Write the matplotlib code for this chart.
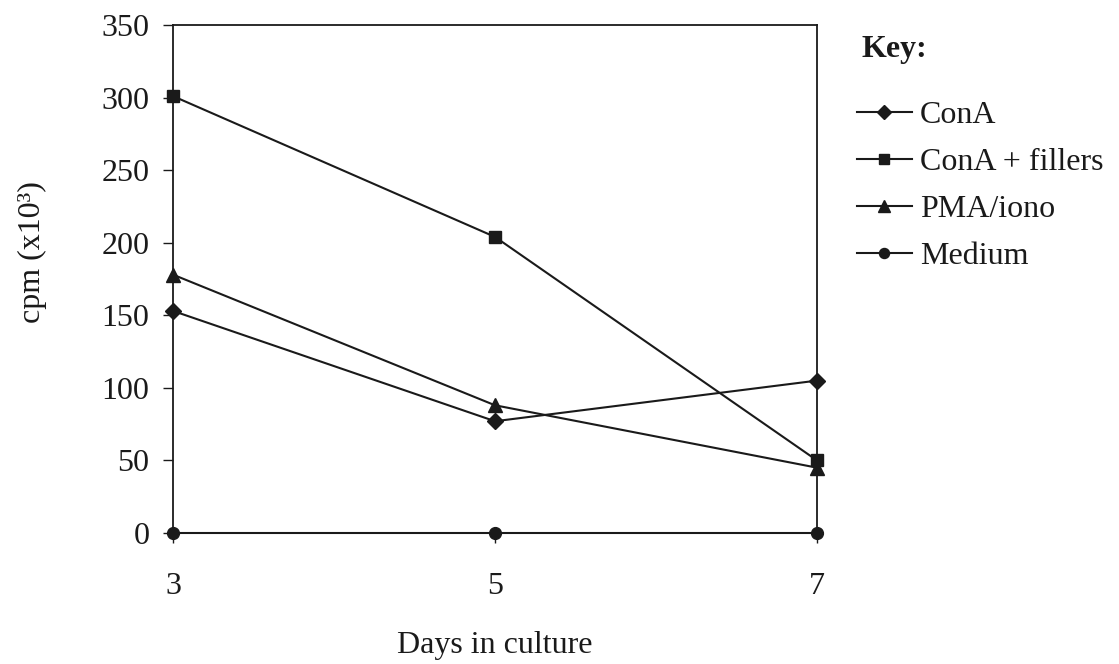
import matplotlib
matplotlib.use("Agg")
import matplotlib.pyplot as plt

plt.rcParams['font.family'] = ['Liberation Serif', 'DejaVu Serif']

days = [3, 5, 7]
series_names = ["ConA", "ConA + fillers", "PMA/iono", "Medium"]
cona = [153, 77, 105]
cona_fillers = [301, 204, 50]
pma_iono = [178, 88, 45]
medium = [0, 0, 0]
y_ticks = [0, 50, 100, 150, 200, 250, 300, 350]

series = [cona, cona_fillers, pma_iono, medium]
markers = ["D", "s", "^", "o"]
msizes = [8, 9, 10, 8.5]

W, H = 1119, 664
FS = 23
fig = plt.figure(figsize=(W / 100, H / 100), dpi=100)
ax = fig.add_axes([173 / W, 1 - 533 / H, (817 - 173) / W, (533 - 25) / H])

col = "#1a1a1a"
handles = []
for vals, m, ms, name in zip(series, markers, msizes, series_names):
    h, = ax.plot(days, vals, color=col, lw=1.5, marker=m, ms=ms,
                 mfc=col, mec=col, clip_on=False, label=name, zorder=3)
    handles.append(h)

ax.set_xlim(3, 7)
ax.set_ylim(0, 350)
ax.set_xticks(days)
ax.set_yticks(y_ticks)
ax.tick_params(axis='x', direction='out', length=7, width=1, pad=21,
               labelsize=FS, colors=col)
ax.tick_params(axis='y', direction='out', length=7, width=1, pad=10,
               labelsize=FS, colors=col)
for s in ax.spines.values():
    s.set_linewidth(1.3)
    s.set_color(col)

fig.text(32 / W, 1 - 252 / H, "cpm (x10\u00b3)", rotation=90, ha='center',
         va='center', fontsize=FS, color=col)
fig.text(495 / W, 1 - 646 / H, "Days in culture", ha='center', va='center',
         fontsize=FS, color=col)
fig.text(862 / W, 1 - 50 / H, "Key:", ha='left', va='center', fontsize=FS,
         fontweight='bold', color=col)

leg = fig.legend(handles=handles, loc='upper left',
                 bbox_to_anchor=(857 / W, 1 - 101 / H), frameon=False,
                 fontsize=FS, handlelength=1.72, handletextpad=0.25,
                 labelspacing=0.55, borderpad=0, borderaxespad=0,
                 markerscale=0.85)
for t in leg.get_texts():
    t.set_color(col)

fig.savefig("out.png", dpi=100)
